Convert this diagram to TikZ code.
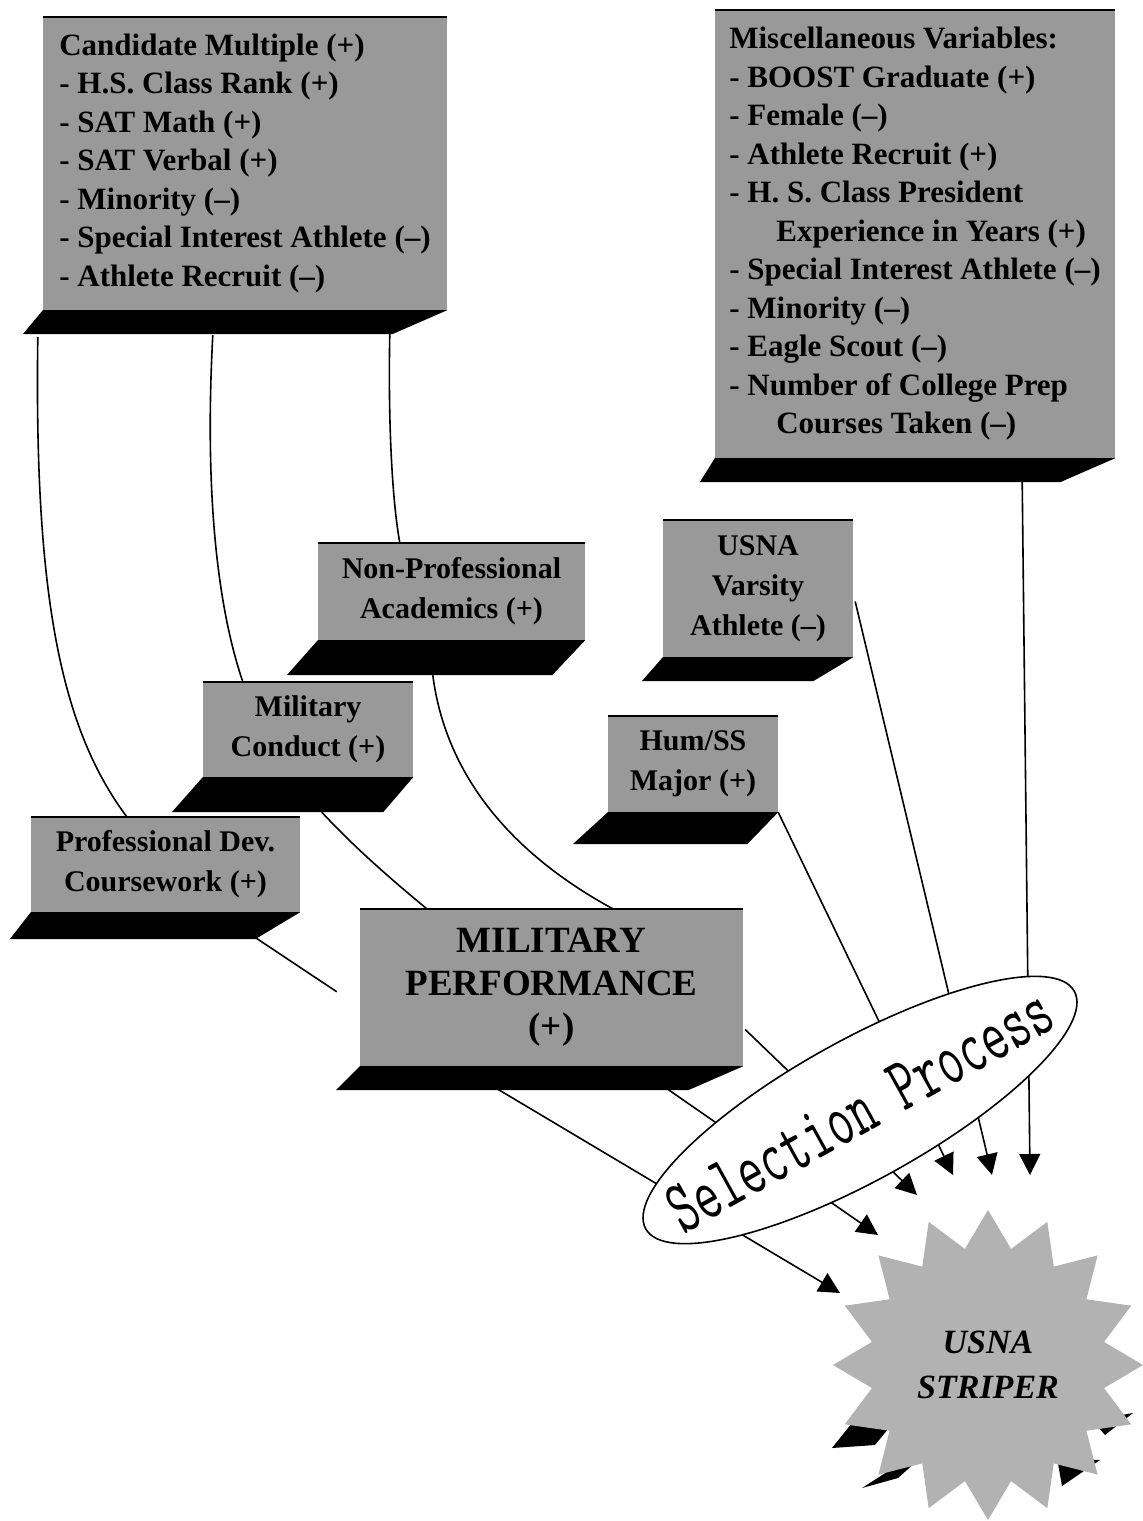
\documentclass[tikz,border=0pt]{standalone}
\usepackage{fontspec}
\setmainfont{Liberation Serif}
\usepackage{graphicx}
\usetikzlibrary{calc,shapes.geometric,arrows.meta}
\tikzset{
  slab/.style={fill=black!40, inner sep=0pt, align=center, font=\bfseries\fontsize{30}{40}\selectfont},
  list slab/.style={slab, align=left, font=\bfseries\fontsize{31}{38.5}\selectfont},
  link/.style={line width=1.6pt},
  feed/.style={link, -{Triangle[length=21pt,width=21pt]}},
  process/.style={ellipse, draw, fill=white, line width=1.6pt, inner sep=0pt, minimum width=490pt, minimum height=140pt},
  process text/.style={rotate=29, inner sep=0pt, font=\ttfamily\fontsize{49}{49}\selectfont},
  burst/.style={star, star points=16, star point ratio=1.31, fill=black!30, inner sep=0pt, minimum size=310pt, align=center, font=\bfseries\itshape\fontsize{34}{45}\selectfont},
}
% dark base under a slab: node, height, left shift, right shift
\newcommand\slabbase[4]{%
  \fill (#1.south west) -- (#1.south east) -- ++(-#4,#2) -- ($(#1.south west)+(-#3,#2)$) -- cycle;
  \draw[line width=2pt] (#1.north west) -- (#1.north east);
}
\begin{document}
\begin{tikzpicture}[x=1pt, y=-1pt]
\useasboundingbox (0,0) rectangle (1143,1521);
% slabs
\node[list slab, minimum width=404pt, minimum height=293pt] (cand) at (245,163.5)
  {Candidate Multiple (+)\\- H.S. Class Rank (+)\\- SAT Math (+)\\- SAT Verbal (+)\\- Minority (--)\\- Special Interest Athlete (--)\\- Athlete Recruit (--)};
\node[list slab, minimum width=400pt, minimum height=448pt] (misc) at (915,234)
  {Miscellaneous Variables:\\- BOOST Graduate (+)\\- Female (--)\\- Athlete Recruit (+)\\- H. S. Class President\\\hspace*{47pt}Experience in Years (+)\\- Special Interest Athlete (--)\\- Minority (--)\\- Eagle Scout (--)\\- Number of College Prep\\\hspace*{47pt}Courses Taken (--)};
\node[slab, minimum width=267pt, minimum height=97pt] (nonprof) at (451.5,591.5) {Non-Professional\\Academics (+)};
\node[slab, minimum width=190pt, minimum height=137pt] (varsity) at (758,588.5) {USNA\\Varsity\\Athlete (--)};
\node[slab, minimum width=210pt, minimum height=95pt] (milcon) at (308,729.5) {Military\\Conduct (+)};
\node[slab, minimum width=170pt, minimum height=96pt] (humss) at (693,764) {Hum/SS\\Major (+)};
\node[slab, minimum width=269pt, minimum height=95pt] (profdev) at (165.5,864.5) {Professional Dev.\\Coursework (+)};
\node[slab, minimum width=383pt, minimum height=157pt, font=\bfseries\fontsize{37}{43}\selectfont] (milperf) at (551.5,987.5) {MILITARY\\PERFORMANCE\\(+)};
\slabbase{cand}{24}{20}{55}
\slabbase{misc}{24}{15}{55}
\slabbase{nonprof}{35}{31}{33}
\slabbase{varsity}{24}{21}{40}
\slabbase{milcon}{35}{31}{30}
\slabbase{humss}{32}{35}{31}
\slabbase{profdev}{27}{21}{45}
\slabbase{milperf}{24}{24}{55}
% the striper burst
\coordinate (sc) at (988,1365);
\fill ($(sc)+(-156,83)$) -- ($(sc)+(-136,58)$) -- ($(sc)+(-91,53)$) -- ($(sc)+(-113,80)$) -- cycle;
\fill ($(sc)+(-126,123)$) -- ($(sc)+(-98,105)$) -- ($(sc)+(-61,87)$) -- ($(sc)+(-90,113)$) -- cycle;
\fill ($(sc)+(69,93)$) -- ($(sc)+(112,95)$) -- ($(sc)+(74,121)$) -- cycle;
\fill ($(sc)+(104,55)$) -- ($(sc)+(145,48)$) -- ($(sc)+(117,70)$) -- cycle;
\node[burst] (striper) at (sc) {USNA\\STRIPER};
\coordinate (tip1) at ($(striper)+(-148,-72)$);
\coordinate (tip2) at ($(striper)+(-110,-130)$);
\coordinate (tip3) at ($(striper)+(-71,-170)$);
\coordinate (tip4) at ($(striper)+(-35,-190)$);
\coordinate (tip5) at ($(striper)+(4,-190)$);
\coordinate (tip6) at ($(striper)+(42,-190)$);
% links between slabs
\draw[link] ($(cand.south west)+(-5,27)$) .. controls (34,600) and (62,730) .. ($(profdev.north west)+(96,0)$);
\draw[link] ($(cand.south west)+(170,25)$) .. controls (205,480) and (215,600) .. ($(milcon.north west)+(40,0)$);
\draw[link] ($(cand.south west)+(347,23)$) .. controls (388,420) and (392,500) .. ($(nonprof.north west)+(82,0)$);
\draw[link] ($(nonprof.south west)+(115,35)$) .. controls (445,770) and (505,850) .. ($(milperf.north west)+(253,0)$);
\draw[link] ($(milcon.south west)+(119,35)$) .. controls (355,848) and (392,880) .. ($(milperf.north west)+(67,0)$);
\draw[link] ($(profdev.south west)+(224,25)$) -- ($(milperf.north west)+(-23,83)$);
% arrows into the striper
\draw[feed] ($(milperf.south west)+(138,23)$) -- (tip1);
\draw[feed] ($(milperf.south west)+(305,21)$) -- (tip2);
\draw[feed] ($(milperf.east)+(2,42)$) -- (tip3);
\draw[feed] (humss.south east) -- (tip4);
\draw[feed] ($(varsity.east)+(2,13)$) -- (tip5);
\draw[feed] ($(misc.south east)+(-93,24)$) -- (tip6);
% selection ellipse on top
\node[process, rotate=29] (select) at (860,1110) {};
\node[process text] (selecttext) at (select.center) {\scalebox{1}[1.55]{Selection Process}};
\end{tikzpicture}
\end{document}
